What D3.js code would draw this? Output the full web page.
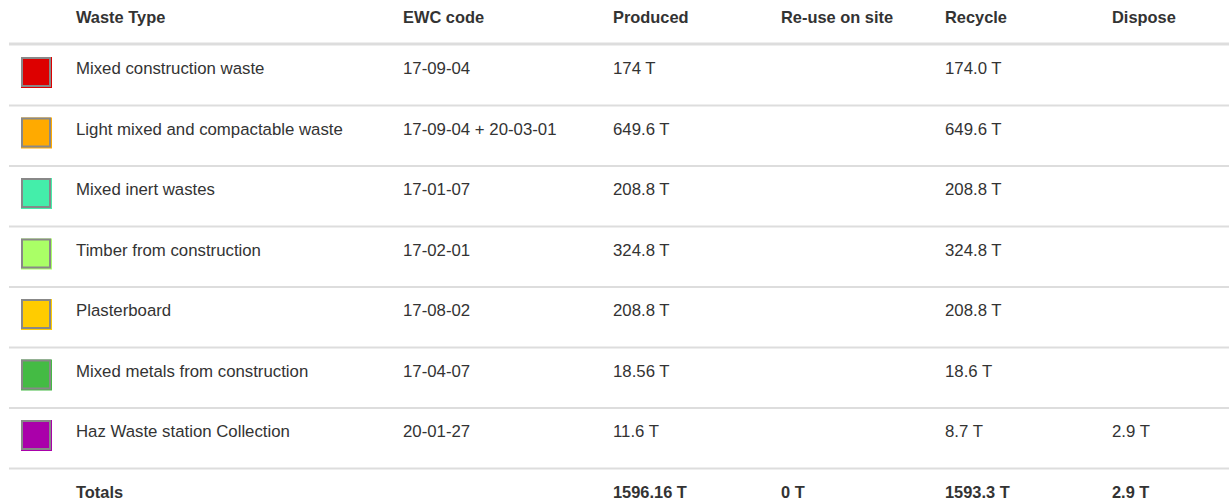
<!DOCTYPE html>
<html>
<head>
<meta charset="utf-8">
<style>
  body { margin: 0; background: #fff; }
  svg text { font-family: "Liberation Sans", Arial, Helvetica, sans-serif; fill: #333; }
</style>
</head>
<body>
<svg></svg>
<script src="https://d3js.org/d3.v7.min.js"></script>
<script>
  const width = 1229;
  const height = 502;

  const headers = ['Waste Type', 'EWC code', 'Produced', 'Re-use on site', 'Recycle', 'Dispose'];
  const wasteTypes = ['Mixed construction waste', 'Light mixed and compactable waste', 'Mixed inert wastes',
    'Timber from construction', 'Plasterboard', 'Mixed metals from construction', 'Haz Waste station Collection'];
  const ewcCodes = ['17-09-04', '17-09-04 + 20-03-01', '17-01-07', '17-02-01', '17-08-02', '17-04-07', '20-01-27'];
  const swatchColors = ['#dd0000', '#ffaa00', '#44eeaa', '#aaff66', '#ffcc00', '#44bb44', '#aa00aa'];
  const produced = [174, 649.6, 208.8, 324.8, 208.8, 18.56, 11.6];
  const reuse = [null, null, null, null, null, null, null];
  const recycle = [174.0, 649.6, 208.8, 324.8, 208.8, 18.6, 8.7];
  const dispose = [null, null, null, null, null, null, 2.9];

  const svg = d3.select('svg').attr('width', width).attr('height', height);

  // columns -> x of text start
  const colX = d3.scaleOrdinal()
    .domain(headers)
    .range([76, 403, 613, 781, 945, 1112]);

  // rows (7 data rows + totals)
  const rowY = d3.scaleLinear().domain([0, 1]).range([45.5, 106]);

  const tidy = v => +v.toFixed(2);
  const fmtProduced = v => v == null ? '' : tidy(v) + ' T';
  const fmtOne = v => v == null ? '' : v.toFixed(1) + ' T';

  const rows = wasteTypes.map((w, i) => ({
    cells: [w, ewcCodes[i], fmtProduced(produced[i]), '', fmtOne(recycle[i]), fmtOne(dispose[i])],
    color: swatchColors[i]
  }));

  const totals = ['Totals', '',
    tidy(d3.sum(produced)) + ' T',
    tidy(d3.sum(reuse, d => d || 0)) + ' T',
    tidy(d3.sum(recycle)) + ' T',
    tidy(d3.sum(dispose, d => d || 0)) + ' T'];

  // header
  svg.append('g').selectAll('text')
    .data(headers)
    .enter().append('text')
    .attr('x', d => colX(d))
    .attr('y', 23)
    .style('font-size', '16.4px')
    .style('font-weight', 'bold')
    .text(d => d);

  svg.append('line')
    .attr('x1', 9).attr('x2', width)
    .attr('y1', 44).attr('y2', 44)
    .style('stroke', '#ddd')
    .style('stroke-width', 3);

  // data rows
  const rowG = svg.selectAll('.row')
    .data(rows)
    .enter().append('g')
    .attr('class', 'row')
    .attr('transform', (d, i) => `translate(0,${rowY(i)})`);

  rowG.append('rect')
    .attr('x', 21).attr('y', 11.5)
    .attr('width', 31).attr('height', 31)
    .style('fill', d => d.color);

  rowG.append('rect')
    .attr('x', 22).attr('y', 12.5)
    .attr('width', 28).attr('height', 28)
    .style('fill', 'none')
    .style('stroke', '#888')
    .style('stroke-width', 2);

  rowG.selectAll('text')
    .data(d => d.cells.map((c, j) => ({ c, col: headers[j] })))
    .enter().append('text')
    .attr('x', d => colX(d.col))
    .attr('y', 28.5)
    .style('font-size', '16.8px')
    .text(d => d.c);

  rowG.append('line')
    .attr('x1', 9).attr('x2', width)
    .attr('y1', 60).attr('y2', 60)
    .style('stroke', '#ddd')
    .style('stroke-width', 2);

  // totals row
  svg.append('g')
    .attr('transform', `translate(0,${rowY(rows.length)})`)
    .selectAll('text')
    .data(totals.map((c, j) => ({ c, col: headers[j] })))
    .enter().append('text')
    .attr('x', d => colX(d.col))
    .attr('y', 28.5)
    .style('font-size', '16.4px')
    .style('font-weight', 'bold')
    .text(d => d.c);
</script>
</body>
</html>
